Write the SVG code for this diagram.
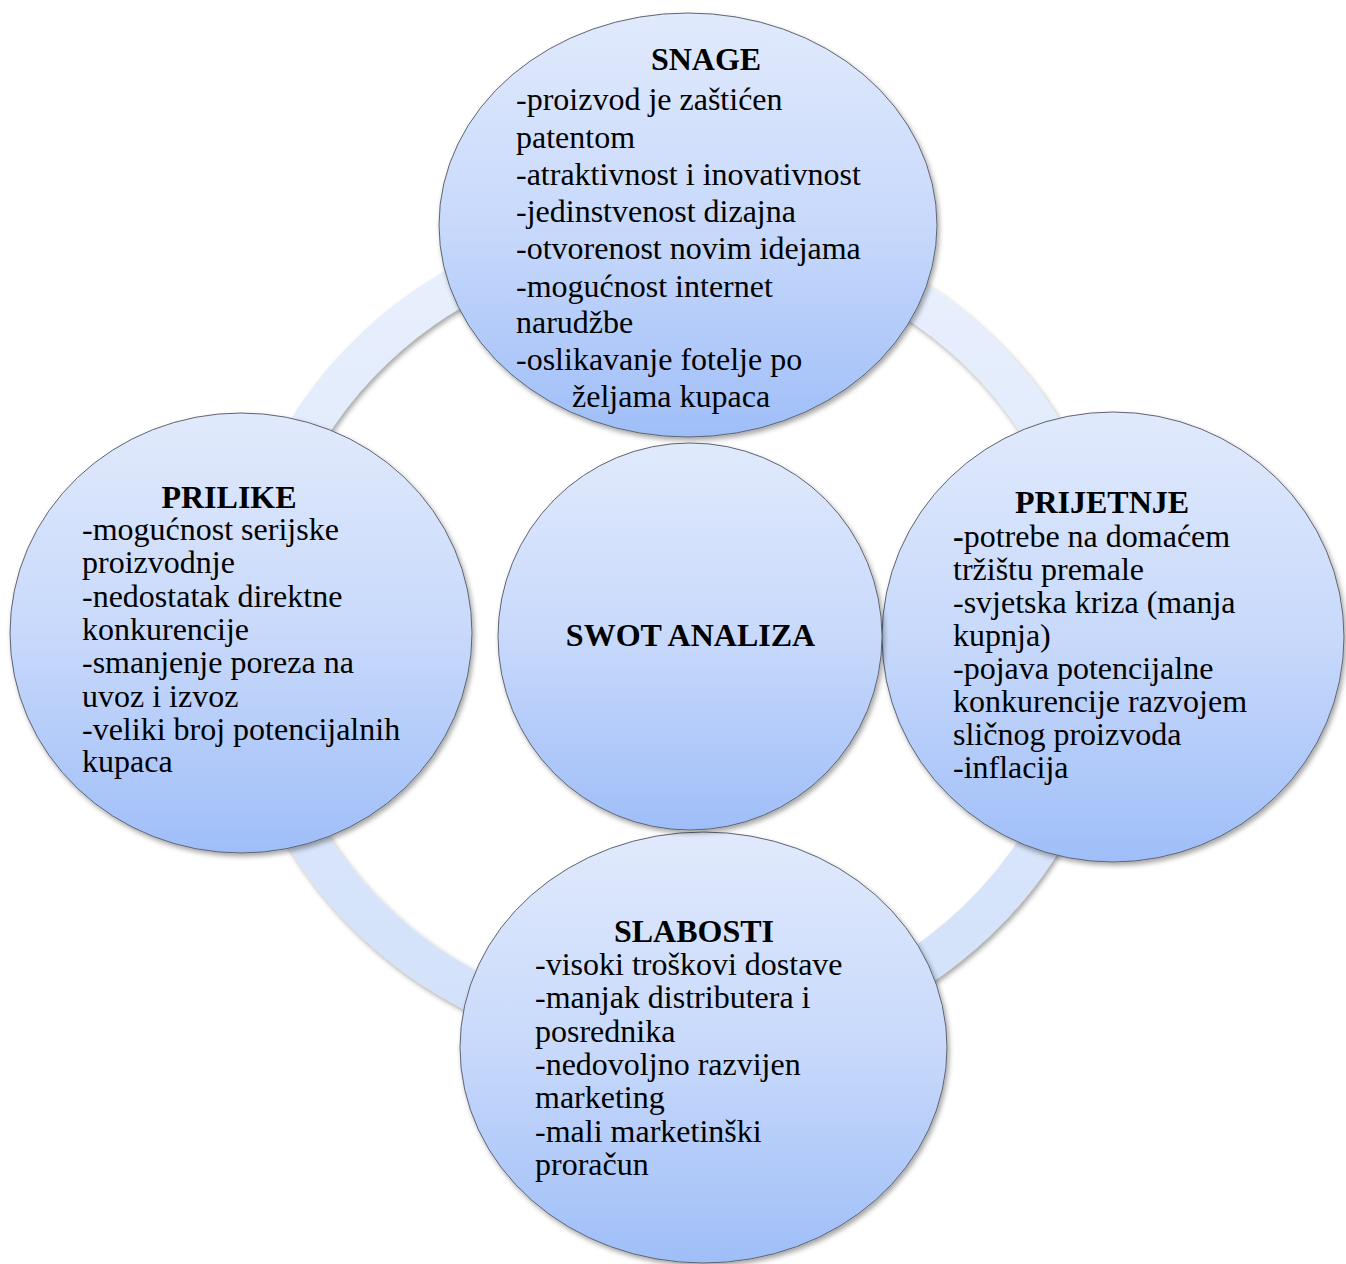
<svg xmlns="http://www.w3.org/2000/svg" width="1346" height="1264" viewBox="0 0 1346 1264">
  <style>
    .node { stroke: #5f6470; stroke-width: 1; filter: url(#shadow); }
    .t { font-family: "Liberation Serif", "Times New Roman", serif; font-size: 32px; fill: #000; }
    .title { font-weight: bold; text-anchor: middle; }
  </style>
  <defs>
    <linearGradient id="nodeGrad" x1="0" y1="0" x2="0" y2="1">
      <stop offset="0" stop-color="#e1eafc"/>
      <stop offset="0.5" stop-color="#c8d9fb"/>
      <stop offset="1" stop-color="#9fbef8"/>
    </linearGradient>
    <linearGradient id="ringGrad" x1="0" y1="0" x2="0" y2="1">
      <stop offset="0" stop-color="#e9f0fd"/>
      <stop offset="1" stop-color="#d2e1fa"/>
    </linearGradient>
    <filter id="shadow" x="-10%" y="-10%" width="125%" height="125%">
      <feDropShadow dx="2" dy="3" stdDeviation="2.5" flood-color="#000" flood-opacity="0.35"/>
    </filter>
  </defs>

  <g id="connectors">
    <ellipse cx="675" cy="635" rx="426" ry="405" fill="none" stroke="url(#ringGrad)" stroke-width="40" filter="url(#shadow)"/>
  </g>

  <g id="node-snage">
    <ellipse class="node" cx="688" cy="225" rx="249" ry="212" fill="url(#nodeGrad)"/>
    <text class="t title" x="706" y="70">SNAGE</text>
    <text class="t" x="516" y="110">-proizvod je zaštićen</text>
    <text class="t" x="516" y="148">patentom</text>
    <text class="t" x="516" y="185">-atraktivnost i inovativnost</text>
    <text class="t" x="516" y="222">-jedinstvenost dizajna</text>
    <text class="t" x="516" y="259">-otvorenost novim idejama</text>
    <text class="t" x="516" y="297">-mogućnost internet</text>
    <text class="t" x="516" y="333">narudžbe</text>
    <text class="t" x="516" y="370">-oslikavanje fotelje po</text>
    <text class="t" x="572" y="407">željama kupaca</text>
  </g>

  <g id="node-prilike">
    <ellipse class="node" cx="241" cy="633" rx="231" ry="220" fill="url(#nodeGrad)"/>
    <text class="t title" x="229" y="508">PRILIKE</text>
    <text class="t" x="82" y="540">-mogućnost serijske</text>
    <text class="t" x="82" y="573">proizvodnje</text>
    <text class="t" x="82" y="607">-nedostatak direktne</text>
    <text class="t" x="82" y="640">konkurencije</text>
    <text class="t" x="82" y="673">-smanjenje poreza na</text>
    <text class="t" x="82" y="707">uvoz i izvoz</text>
    <text class="t" x="82" y="740">-veliki broj potencijalnih</text>
    <text class="t" x="82" y="772">kupaca</text>
  </g>

  <g id="node-prijetnje">
    <ellipse class="node" cx="1113" cy="637" rx="231" ry="225" fill="url(#nodeGrad)"/>
    <text class="t title" x="1102" y="513">PRIJETNJE</text>
    <text class="t" x="953" y="547"><tspan font-weight="bold">-</tspan>potrebe na domaćem</text>
    <text class="t" x="953" y="580">tržištu premale</text>
    <text class="t" x="953" y="613">-svjetska kriza (manja</text>
    <text class="t" x="953" y="646">kupnja)</text>
    <text class="t" x="953" y="679">-pojava potencijalne</text>
    <text class="t" x="953" y="712">konkurencije razvojem</text>
    <text class="t" x="953" y="745">sličnog proizvoda</text>
    <text class="t" x="953" y="778">-inflacija</text>
  </g>

  <g id="node-slabosti">
    <ellipse class="node" cx="703.5" cy="1047.5" rx="243.5" ry="215.5" fill="url(#nodeGrad)"/>
    <text class="t title" x="694" y="942">SLABOSTI</text>
    <text class="t" x="535" y="975">-visoki troškovi dostave</text>
    <text class="t" x="535" y="1008">-manjak distributera i</text>
    <text class="t" x="535" y="1042">posrednika</text>
    <text class="t" x="535" y="1075">-nedovoljno razvijen</text>
    <text class="t" x="535" y="1108">marketing</text>
    <text class="t" x="535" y="1142">-mali marketinški</text>
    <text class="t" x="535" y="1175">proračun</text>
  </g>

  <g id="node-swot">
    <ellipse class="node" cx="690" cy="636.5" rx="192" ry="193.5" fill="url(#nodeGrad)"/>
    <text class="t title" x="690.5" y="646">SWOT ANALIZA</text>
  </g>
</svg>
